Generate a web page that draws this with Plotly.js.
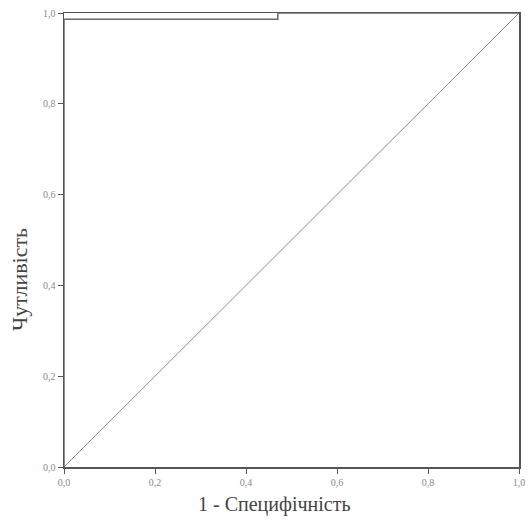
<!DOCTYPE html>
<html>
<head>
<meta charset="utf-8">
<script src="https://cdn.plot.ly/plotly-3.0.1.min.js"></script>
<style>html,body{margin:0;padding:0;background:#fff;}#chart{width:528px;height:522px;}</style>
</head>
<body>
<div id="chart"></div>
<script>
// ROC curve points (1 - specificity, sensitivity)
const rocFpr = [0.0, 0.0, 0.47, 0.47, 1.0];
const rocTpr = [0.0, 0.986, 0.986, 1.0, 1.0];
// Reference diagonal
const refX = [0.0, 1.0];
const refY = [0.0, 1.0];
const tickVals = [0.0, 0.2, 0.4, 0.6, 0.8, 1.0];
const xTitle = "1 - Специфічність";
const yTitle = "Чутливість";

const traces = [
  {x: refX, y: refY, mode: 'lines', line: {color: '#8a8a8a', width: 1}, hoverinfo: 'skip'},
  {x: rocFpr, y: rocTpr, mode: 'lines', line: {color: '#6a6a6a', width: 1.5, shape: 'linear'}}
];

const axisCommon = {
  range: [0, 1],
  tickvals: tickVals,
  tickformat: '.1f',
  ticks: 'outside',
  ticklen: 5,
  tickcolor: '#555',
  showgrid: false,
  zeroline: false,
  showline: true,
  mirror: true,
  linecolor: '#555',
  linewidth: 1.5,
  tickfont: {family: 'Liberation Serif', size: 10, color: '#888'}
};

const layout = {
  width: 528, height: 522,
  margin: {l: 64, r: 9, t: 13, b: 55},
  paper_bgcolor: '#fff',
  plot_bgcolor: '#fff',
  showlegend: false,
  separators: ', ',
  font: {family: 'Liberation Serif'},
  xaxis: Object.assign({}, axisCommon),
  yaxis: Object.assign({}, axisCommon),
  annotations: [
    {text: xTitle, xref: 'paper', yref: 'paper', x: 0.4637, y: -0.0837,
     xanchor: 'center', yanchor: 'middle', showarrow: false,
     font: {family: 'Liberation Serif', size: 20, color: '#444'}},
    {text: yTitle, xref: 'paper', yref: 'paper', x: -0.0967, y: 0.412,
     xanchor: 'center', yanchor: 'middle', showarrow: false, textangle: -90,
     font: {family: 'Liberation Serif', size: 22, color: '#444'}}
  ]
};

Plotly.newPlot('chart', traces, layout, {displayModeBar: false, staticPlot: true});
</script>
</body>
</html>
